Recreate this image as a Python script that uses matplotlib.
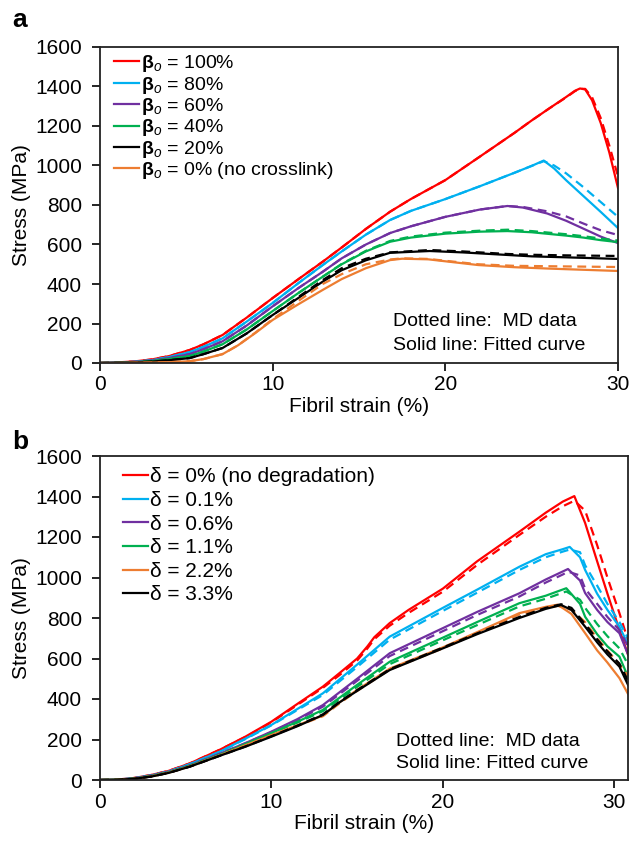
import matplotlib
matplotlib.use("Agg")
import matplotlib.pyplot as plt

plt.rcParams['font.family'] = ['Liberation Sans', 'DejaVu Sans']
plt.rcParams['mathtext.fontset'] = 'custom'
plt.rcParams['mathtext.rm'] = 'Liberation Sans'
plt.rcParams['mathtext.it'] = 'Liberation Sans:italic'
plt.rcParams['mathtext.bf'] = 'Liberation Sans:bold'

colors = ['#FF0000', '#00B0F0', '#7030A0', '#00B050', '#000000', '#ED7D31']

# ---------------- Panel a : crosslink density ----------------
a_labels = [r'$\mathbf{\beta}_{\mathit{o}}$ = 100%', r'$\mathbf{\beta}_{\mathit{o}}$ = 80%',
            r'$\mathbf{\beta}_{\mathit{o}}$ = 60%', r'$\mathbf{\beta}_{\mathit{o}}$ = 40%',
            r'$\mathbf{\beta}_{\mathit{o}}$ = 20%', r'$\mathbf{\beta}_{\mathit{o}}$ = 0% (no crosslink)']

a100_x = [0, 1, 2, 3, 4, 5.2, 6, 7.1, 8.5, 10, 11.5, 12.9, 14, 15.4, 16.8, 18, 20, 22, 24, 25, 26, 27, 27.5, 27.8, 28.1, 28.5, 29, 29.5, 30]
a100_fit = [0, 3, 8, 18, 35, 66, 95, 142, 230, 329, 425, 513, 585, 679, 766, 830, 926, 1045, 1165, 1228, 1288, 1347, 1378, 1390, 1385, 1330, 1215, 1065, 886]
a100_md = [0, 3, 8, 18, 35, 66, 95, 142, 230, 329, 425, 513, 585, 679, 766, 830, 926, 1045, 1165, 1228, 1288, 1345, 1376, 1388, 1388, 1345, 1240, 1100, 945]

a80_x = [0, 1, 2, 3, 4, 5.2, 6, 7.1, 8.5, 10, 11.5, 12.9, 14, 15.4, 16.8, 18, 20, 22, 24, 25, 25.7, 26.3, 27, 28, 29, 30]
a80_fit = [0, 2, 6, 14, 30, 55, 82, 125, 210, 304, 405, 496, 565, 650, 724, 770, 830, 895, 963, 998, 1025, 985, 925, 845, 765, 683]
a80_md = [0, 2, 6, 14, 30, 55, 82, 125, 210, 304, 405, 496, 565, 650, 724, 770, 830, 895, 963, 998, 1022, 1000, 960, 890, 815, 740]

a60_x = [0, 1, 2, 3, 4, 5.2, 6, 7.1, 8.5, 10, 11.5, 12.9, 14, 15.4, 16.8, 18, 20, 22, 23.6, 24.5, 25.9, 27, 28, 29, 30]
a60_fit = [0, 2, 5, 12, 25, 45, 70, 110, 190, 287, 380, 462, 530, 600, 658, 692, 740, 777, 795, 787, 757, 720, 680, 640, 607]
a60_md = [0, 2, 5, 12, 25, 45, 70, 110, 190, 287, 380, 462, 530, 600, 658, 692, 740, 777, 795, 790, 768, 742, 706, 672, 648]

a40_x = [0, 1, 2, 3, 4, 5.2, 6, 7.1, 8.5, 10, 11.5, 12.9, 14, 15.4, 16.8, 18, 20, 22, 23.6, 25, 27, 28, 29, 30]
a40_fit = [0, 1, 4, 10, 20, 35, 58, 95, 170, 263, 355, 437, 500, 565, 614, 635, 655, 665, 668, 662, 645, 635, 622, 612]
a40_md = [0, 1, 4, 10, 20, 35, 58, 95, 170, 263, 355, 437, 502, 568, 618, 640, 660, 670, 675, 668, 652, 642, 630, 620]

a20_x = [0, 1, 2, 3, 4, 5.2, 6, 7.1, 8.5, 10, 11.5, 12.9, 14, 15.4, 16.8, 19.1, 21, 23.6, 25, 27, 30]
a20_fit = [0, 1, 3, 7, 14, 25, 45, 76, 150, 243, 330, 412, 470, 520, 558, 567, 560, 547, 540, 535, 527]
a20_md = [0, 1, 3, 7, 14, 25, 45, 76, 150, 243, 335, 420, 480, 528, 560, 572, 565, 552, 548, 545, 542]

a0_x = [0, 1, 2, 3, 4, 5.2, 6, 7.1, 8, 9, 10, 11.5, 12.9, 14, 15.4, 16.8, 17.5, 19, 21.9, 24, 26, 28, 30]
a0_fit = [0, 0, 1, 2, 4, 9, 20, 45, 90, 152, 218, 298, 370, 425, 480, 521, 528, 525, 496, 485, 478, 472, 466]
a0_md = [0, 0, 1, 2, 4, 9, 20, 45, 90, 154, 222, 315, 400, 450, 500, 524, 530, 527, 500, 492, 490, 488, 486]

a_x = [a100_x, a80_x, a60_x, a40_x, a20_x, a0_x]
a_fit = [a100_fit, a80_fit, a60_fit, a40_fit, a20_fit, a0_fit]
a_md = [a100_md, a80_md, a60_md, a40_md, a20_md, a0_md]

# ---------------- Panel b : degradation ----------------
b_labels = ['δ = 0% (no degradation)', 'δ = 0.1%', 'δ = 0.6%', 'δ = 1.1%', 'δ = 2.2%', 'δ = 3.3%']

b0_x = [0, 1, 2, 3, 4, 5.24, 7, 8.5, 10, 11.5, 13, 14, 15, 15.6, 16, 16.9, 18, 20, 22, 24.46, 26, 27, 27.67, 28.3, 29, 29.6, 30.3, 30.8]
b0_fit = [0, 2, 10, 25, 45, 82, 150, 215, 288, 375, 461, 530, 600, 660, 705, 775, 840, 945, 1080, 1226, 1320, 1375, 1402, 1269, 1080, 920, 741, 620]
b0_md = [0, 2, 10, 25, 45, 82, 150, 213, 285, 370, 455, 520, 590, 650, 695, 762, 825, 930, 1062, 1210, 1300, 1352, 1379, 1330, 1160, 1000, 824, 690]

b01_x = [0, 1, 2, 3, 4, 5.24, 7, 8.5, 10, 11.5, 13, 15, 16.9, 20, 22, 24.46, 26, 27, 27.4, 28, 28.3, 29, 29.6, 30.3, 30.8]
b01_fit = [0, 2, 9, 23, 42, 78, 140, 205, 272, 350, 428, 570, 708, 850, 940, 1053, 1115, 1140, 1151, 1100, 1037, 920, 840, 757, 670]
b01_md = [0, 2, 9, 23, 42, 78, 140, 203, 270, 345, 420, 558, 693, 835, 925, 1037, 1100, 1128, 1138, 1125, 1060, 960, 870, 780, 700]

b06_x = [0, 1, 2, 3, 4, 5.24, 7, 8.5, 10, 11.5, 13, 15, 16.9, 20, 22, 24.46, 26, 27, 27.3, 28, 28.3, 29, 29.6, 30.3, 30.8]
b06_fit = [0, 2, 8, 22, 40, 72, 130, 183, 239, 300, 370, 500, 626, 750, 830, 922, 990, 1030, 1042, 985, 923, 840, 780, 725, 620]
b06_md = [0, 2, 8, 22, 40, 72, 130, 182, 237, 296, 362, 490, 612, 735, 815, 906, 975, 1015, 1029, 1010, 945, 870, 805, 740, 660]

b11_x = [0, 1, 2, 3, 4, 5.24, 7, 8.5, 10, 11.5, 13, 15, 16.9, 20, 22, 24.46, 26, 27.2, 28, 28.3, 29, 29.6, 30.3, 30.8]
b11_fit = [0, 2, 7, 20, 38, 70, 125, 178, 232, 287, 346, 470, 584, 703, 780, 873, 910, 947, 870, 806, 720, 660, 609, 510]
b11_md = [0, 2, 7, 20, 38, 70, 125, 177, 230, 283, 340, 460, 572, 690, 765, 857, 895, 931, 890, 850, 770, 710, 650, 570]

b22_x = [0, 1, 2, 3, 4, 5.24, 7, 8.5, 10, 11.5, 13, 14, 15, 16.9, 20, 22, 24.46, 26, 26.7, 27.5, 28.3, 29, 29.6, 30.3, 30.8]
b22_fit = [0, 1, 6, 18, 36, 67, 122, 172, 222, 270, 318, 385, 445, 550, 655, 730, 824, 855, 866, 820, 725, 640, 580, 503, 425]
b22_md = [0, 1, 6, 18, 36, 67, 122, 171, 220, 267, 315, 380, 440, 545, 650, 725, 818, 850, 860, 840, 780, 700, 640, 570, 515]

b33_x = [0, 1, 2, 3, 4, 5.24, 7, 8.5, 10, 11.5, 13, 14, 15, 16.9, 20, 22, 24.46, 26, 26.9, 27.5, 28.3, 29, 29.6, 30.3, 30.8]
b33_fit = [0, 1, 6, 17, 35, 66, 120, 165, 214, 265, 321, 385, 440, 543, 650, 720, 800, 845, 864, 840, 757, 680, 620, 560, 470]
b33_md = [0, 1, 6, 17, 35, 66, 120, 166, 216, 268, 324, 388, 444, 547, 654, 724, 805, 850, 868, 850, 770, 695, 635, 575, 490]

b_x = [b0_x, b01_x, b06_x, b11_x, b22_x, b33_x]
b_fit = [b0_fit, b01_fit, b06_fit, b11_fit, b22_fit, b33_fit]
b_md = [b0_md, b01_md, b06_md, b11_md, b22_md, b33_md]
b_colors = ['#FF0000', '#00B0F0', '#7030A0', '#00B050', '#ED7D31', '#000000']

yticks = [0, 200, 400, 600, 800, 1000, 1200, 1400, 1600]
xticks = [0, 10, 20, 30]

fig = plt.figure(figsize=(6.32, 8.41), dpi=100)
W, H = 632, 841
axA = fig.add_axes([100 / W, 1 - 363 / H, 518 / W, 316 / H])
axB = fig.add_axes([100 / W, 1 - 780 / H, 528 / W, 324 / H])


def style(ax, xmax):
    ax.set_xlim(0, xmax)
    ax.set_ylim(0, 1600)
    ax.set_xticks(xticks)
    ax.set_yticks(yticks)
    ax.tick_params(direction='out', length=6, width=1.2, labelsize=15, colors='black')
    ax.tick_params(axis='y', pad=7)
    ax.tick_params(axis='x', pad=3)
    for s in ax.spines.values():
        s.set_linewidth(1.3)
        s.set_color('#222222')
    ax.set_xlabel('Fibril strain (%)', fontsize=15, labelpad=2)
    ax.set_ylabel('Stress (MPa)', fontsize=15, labelpad=3)


for xs, fit, md, c, lab in zip(a_x, a_fit, a_md, colors, a_labels):
    axA.plot(xs, md, color=c, lw=1.6, ls=(0, (4, 2.5)))
    axA.plot(xs, fit, color=c, lw=1.6, label=lab)
style(axA, 30)
axA.legend(loc='upper left', frameon=False, fontsize=14, handlelength=1.3, handletextpad=0.1,
           labelspacing=0.02, borderaxespad=0.0, bbox_to_anchor=(0.012, 1.005))
axA.text(0.566, 0.13, 'Dotted line:  MD data', transform=axA.transAxes, fontsize=14, va='center')
axA.text(0.566, 0.055, 'Solid line: Fitted curve', transform=axA.transAxes, fontsize=14, va='center')

for xs, fit, md, c, lab in zip(b_x, b_fit, b_md, b_colors, b_labels):
    axB.plot(xs, md, color=c, lw=1.6, ls=(0, (4, 2.5)))
    axB.plot(xs, fit, color=c, lw=1.6, label=lab)
style(axB, 30.8)
axB.legend(loc='upper left', frameon=False, fontsize=15, handlelength=1.2, handletextpad=0.1,
           labelspacing=0.22, borderaxespad=0.15, bbox_to_anchor=(0.022, 1.0))
axB.text(0.56, 0.12, 'Dotted line:  MD data', transform=axB.transAxes, fontsize=14, va='center')
axB.text(0.56, 0.05, 'Solid line: Fitted curve', transform=axB.transAxes, fontsize=14, va='center')

fig.text(12 / W, 1 - 20 / H, 'a', fontsize=19, fontweight='bold', va='center')
fig.text(12 / W, 1 - 442 / H, 'b', fontsize=19, fontweight='bold', va='center')

fig.savefig('out.png', dpi=100)
